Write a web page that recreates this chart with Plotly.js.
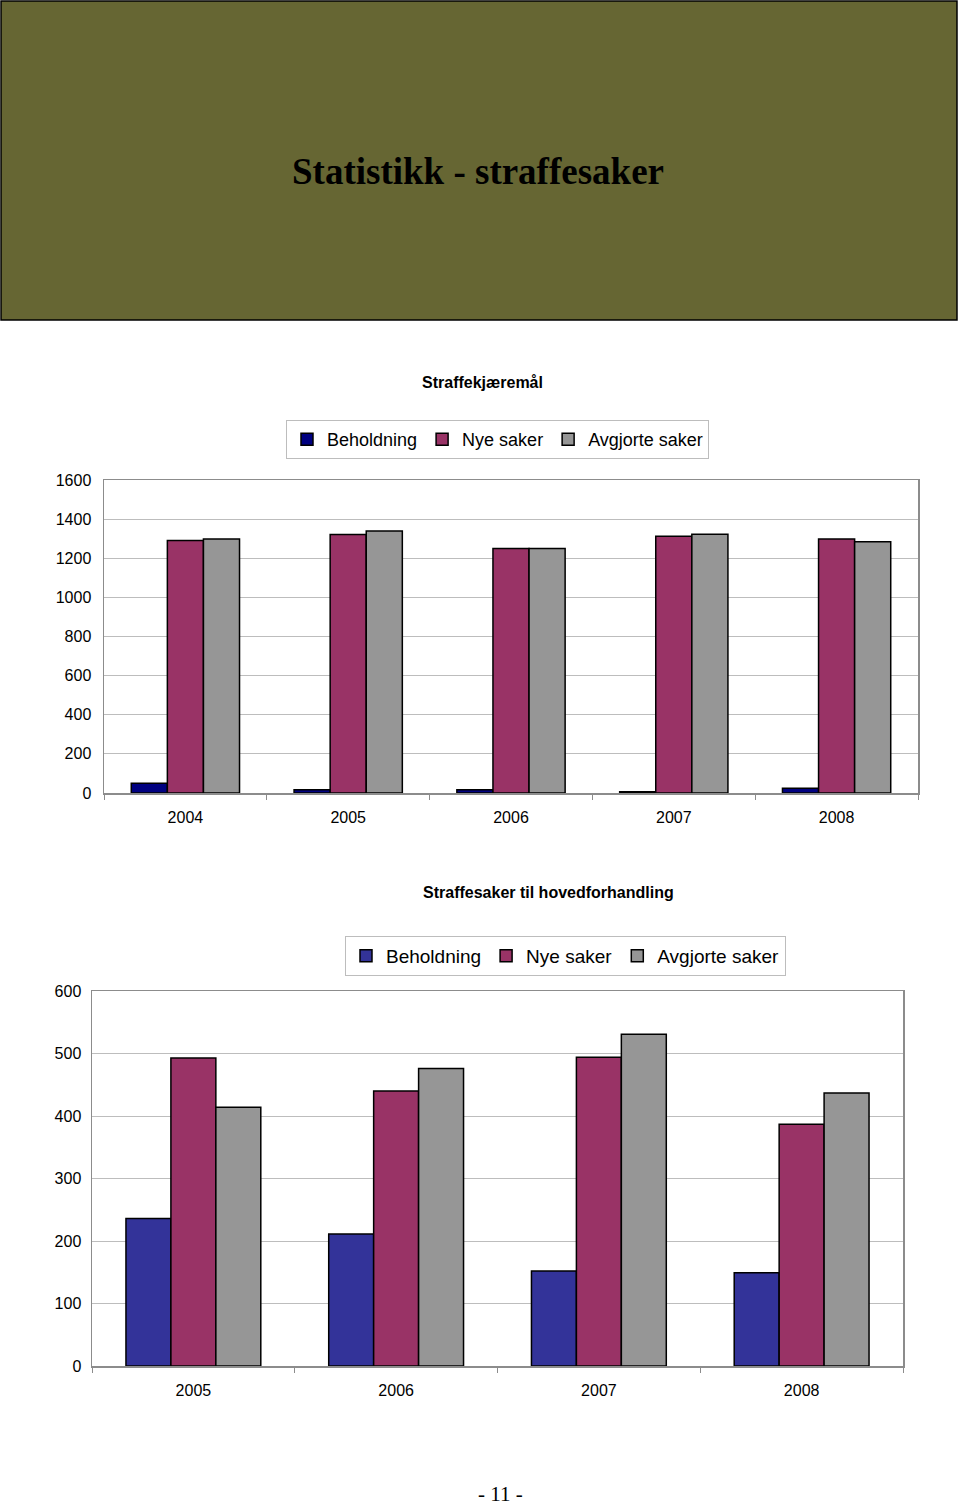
<!DOCTYPE html>
<html>
<head>
<meta charset="utf-8">
<script src="https://cdn.plot.ly/plotly-3.0.1.min.js"></script>
<style>
html,body{margin:0;padding:0;background:#fff;}
#chart{width:960px;height:1507px;}
</style>
</head>
<body>
<div id="chart"></div>
<script>
// ---- Data ----
var pageTitle = "Statistikk - straffesaker";
var pageNumber = "- 11 -";
var seriesNames = ["Beholdning", "Nye saker", "Avgjorte saker"];

var chart1Title = "Straffekjæremål";
var years1 = ["2004", "2005", "2006", "2007", "2008"];
var beholdning1 = [50, 17, 17, 7, 24];
var nyeSaker1 = [1291, 1322, 1250, 1313, 1298];
var avgjorte1 = [1298, 1339, 1250, 1323, 1284];

var chart2Title = "Straffesaker til hovedforhandling";
var years2 = ["2005", "2006", "2007", "2008"];
var beholdning2 = [236, 211, 152, 149];
var nyeSaker2 = [493, 440, 494, 387];
var avgjorte2 = [414, 476, 531, 437];

// ---- Layout helpers (pixels -> paper) ----
var W = 960, H = 1507;
function px(x){ return x / W; }
function py(y){ return 1 - y / H; }

var colors1 = ["#000080", "#993366", "#969696"];
var colors2 = ["#333399", "#993366", "#969696"];
var font = "Arial, 'Liberation Sans', sans-serif";

function bars(x, ys, cols, xa, ya, legend){
  return ys.map(function(y, i){
    return {
      type: "bar", x: x, y: y, name: seriesNames[i],
      xaxis: xa, yaxis: ya, legend: legend,
      marker: {color: cols[i], line: {color: "#000", width: 1.5}},
      hoverinfo: "none"
    };
  });
}

var data = []
  .concat(bars(years1, [beholdning1, nyeSaker1, avgjorte1], colors1, "x", "y", "legend"))
  .concat(bars(years2, [beholdning2, nyeSaker2, avgjorte2], colors2, "x2", "y2", "legend2"));

function xaxis(domain, anchor){
  return {
    domain: domain, anchor: anchor, type: "category",
    showline: true, mirror: true, linecolor: "#8c8c8c", linewidth: 1.5,
    ticks: "outside", tickson: "boundaries", ticklen: 5, tickcolor: "#8c8c8c",
    showgrid: false, zeroline: false,
    tickfont: {family: font, size: 16, color: "#000"},
    ticklabelstandoff: 9, fixedrange: true
  };
}
function yaxis(domain, anchor, maxv, step, standoff){
  return {
    domain: domain, anchor: anchor, range: [0, maxv], dtick: step,
    showline: true, mirror: true, linecolor: "#8c8c8c", linewidth: 1.5,
    showgrid: true, gridcolor: "#bdbdbd", gridwidth: 1,
    zeroline: false, ticks: "", ticklabelstandoff: standoff,
    tickfont: {family: font, size: 16, color: "#000"}, fixedrange: true
  };
}

var layout = {
  width: W, height: H,
  margin: {l: 0, r: 0, t: 0, b: 0},
  paper_bgcolor: "#fff", plot_bgcolor: "#fff",
  showlegend: true,
  barmode: "group", bargap: 0.335, bargroupgap: 0,
  xaxis: xaxis([px(104), px(918)], "y"),
  yaxis: yaxis([py(793), py(480)], "x", 1600, 200, 8),
  xaxis2: xaxis([px(92), px(903)], "y2"),
  yaxis2: yaxis([py(1366), py(991)], "x2", 600, 100, 6),
  legend: {
    orientation: "h", x: px(286), y: py(420), xanchor: "left", yanchor: "top",
    bordercolor: "#bdbdbd", borderwidth: 1, bgcolor: "#fff",
    font: {family: font, size: 18, color: "#000"}, itemwidth: 30,
    traceorder: "normal"
  },
  legend2: {
    orientation: "h", x: px(345), y: py(936), xanchor: "left", yanchor: "top",
    bordercolor: "#bdbdbd", borderwidth: 1, bgcolor: "#fff",
    font: {family: font, size: 19, color: "#000"}, itemwidth: 30,
    traceorder: "normal"
  },
  shapes: [
    {type: "rect", xref: "paper", yref: "paper",
     x0: px(1), x1: px(957), y0: py(320), y1: py(1),
     fillcolor: "#666633", line: {color: "#000", width: 1.5}, layer: "below"}
  ],
  annotations: [
    {xref: "paper", yref: "paper", x: px(478), y: py(171), xanchor: "center", yanchor: "middle",
     text: "<b>" + pageTitle + "</b>", showarrow: false,
     font: {family: "'Liberation Serif', 'Times New Roman', serif", size: 37, color: "#000"}},
    {xref: "paper", yref: "paper", x: px(482), y: py(382), xanchor: "center", yanchor: "middle",
     text: "<b>" + chart1Title + "</b>", showarrow: false,
     font: {family: font, size: 16, color: "#000"}},
    {xref: "paper", yref: "paper", x: px(548), y: py(892), xanchor: "center", yanchor: "middle",
     text: "<b>" + chart2Title + "</b>", showarrow: false,
     font: {family: font, size: 16, color: "#000"}},
    {xref: "paper", yref: "paper", x: px(500), y: py(1494), xanchor: "center", yanchor: "middle",
     text: pageNumber, showarrow: false,
     font: {family: "'Liberation Serif', 'Times New Roman', serif", size: 21, color: "#000"}}
  ]
};

Plotly.newPlot("chart", data, layout, {displayModeBar: false, staticPlot: true});
</script>
</body>
</html>
